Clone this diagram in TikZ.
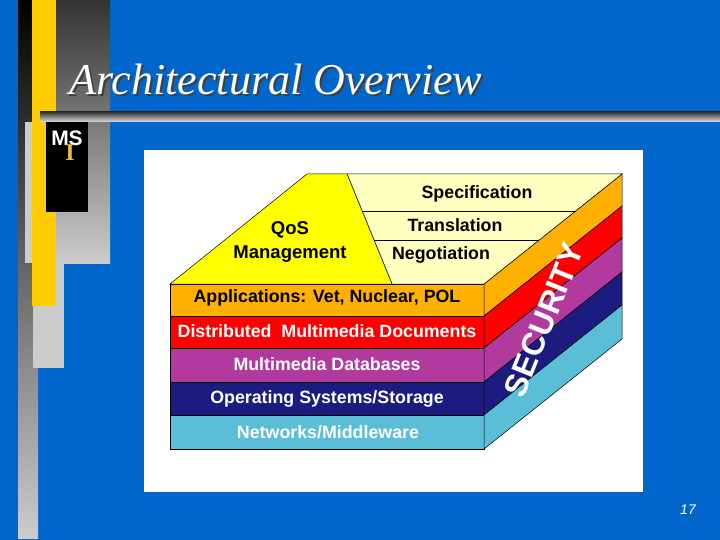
\documentclass[tikz,border=0pt]{standalone}
\usepackage{fontspec}
\setmainfont{Liberation Sans}
\newfontfamily\titleserif{Liberation Serif}
\usepackage{xcolor}
\usepackage{tikz}

\definecolor{slideblue}{RGB}{0,102,204}
\definecolor{stripyellow}{RGB}{255,204,0}
\definecolor{appsorange}{RGB}{255,176,0}
\definecolor{dmdred}{RGB}{255,0,0}
\definecolor{dbpurple}{RGB}{178,58,158}
\definecolor{osnavy}{RGB}{28,28,128}
\definecolor{netcyan}{RGB}{91,190,215}
\definecolor{qosyellow}{RGB}{255,255,0}
\definecolor{toppale}{RGB}{255,255,192}
\definecolor{msgold}{RGB}{232,192,64}

\tikzset{
  band/.style={draw=black,line width=0.5pt},
  layertext/.style={font=\fontsize{17.8}{20}\selectfont\bfseries},
  toptext/.style={font=\fontsize{17.8}{20}\selectfont\bfseries,text=black},
}

\begin{document}
\begin{tikzpicture}[x=1pt,y=-1pt]
        \useasboundingbox (0,0) rectangle (720,540);
        \fill[slideblue] (0,0) rectangle (720,540);

        \shade[top color=black,bottom color=gray!40] (18,0) rectangle (38,538);
        \shade[top color=black!80,bottom color=gray!40] (56,0) rectangle (110,263);
        \fill[gray!40] (25,122) rectangle (56,263);
        \fill[gray!40] (33,263) rectangle (64,368);
        \fill[stripyellow] (32,0) rectangle (56,306);
        \shade[top color=black!80,bottom color=gray!25] (40,112) rectangle (720,122);
        \fill[black] (46,122) rectangle (88,212);

        \node[text=black!75,anchor=base west,font=\titleserif\itshape\fontsize{44}{48}\selectfont] at (68,97) {Architectural Overview};
        \node (title) [text=white,anchor=base west,font=\titleserif\itshape\fontsize{44}{48}\selectfont] at (66,95) {Architectural Overview};
        \node (msname) [text=white,font=\bfseries\fontsize{21}{22}\selectfont] at (67,138) {MS};
        \node (msi) [text=msgold,font=\titleserif\bfseries\fontsize{24}{26}\selectfont] at (70,153) {I};

        \fill[white] (144,150) rectangle (643,492);

        \draw[band,fill=appsorange] (170,284) rectangle (484,316);
        \draw[band,fill=dmdred] (170,316) rectangle (484,348);
        \draw[band,fill=dbpurple] (170,348) rectangle (484,382);
        \draw[band,fill=osnavy] (170,382) rectangle (484,415);
        \draw[band,fill=netcyan] (170,415) rectangle (484,449);

        \draw[band,fill=appsorange] (484,284) -- (622,174) -- (622,206) -- (484,316) -- cycle;
        \draw[band,fill=dmdred] (484,316) -- (622,206) -- (622,238) -- (484,348) -- cycle;
        \draw[band,fill=dbpurple] (484,348) -- (622,238) -- (622,272) -- (484,382) -- cycle;
        \draw[band,fill=osnavy] (484,382) -- (622,272) -- (622,305) -- (484,415) -- cycle;
        \draw[band,fill=netcyan] (484,415) -- (622,305) -- (622,339) -- (484,449) -- cycle;

        \draw[band,fill=toppale] (392,284) -- (484,284) -- (622,174) -- (347,174) -- cycle;
        \draw[band,fill=qosyellow] (170,284) -- (307,174) -- (347,174) -- (392,284) -- cycle;
        \draw[band] (362,211) -- (576,211);
        \draw[band] (374,240) -- (539,240);

        \node (spec) [toptext] at (477,194) {Specification};
        \node (transl) [toptext] at (455,225) {Translation};
        \node (negot) [toptext] at (441,255) {Negotiation};
        \node (qos) [toptext,font=\fontsize{18.5}{24}\selectfont\bfseries,align=center] at (290,242) {QoS\\Management};

        \node (apps) [layertext,text=black] at (327,298) {Applications: Vet, Nuclear, POL};
        \node (dmd) [layertext,text=white] at (327,331) {Distributed\ \ Multimedia Documents};
        \node (mmdb) [layertext,text=white] at (327,364) {Multimedia Databases};
        \node (oss) [layertext,text=white] at (327,399) {Operating Systems/Storage};
        \node (netw) [layertext,text=white] at (328,432) {Networks/Middleware};

        \node (security) [text=white,font=\bfseries\fontsize{32}{34}\selectfont,rotate=68] at (544,320) {SECURITY};

        \node (pagenum) [text=white,font=\itshape\fontsize{14}{16}\selectfont] at (688,510) {17};
    \end{tikzpicture}
\end{document}
